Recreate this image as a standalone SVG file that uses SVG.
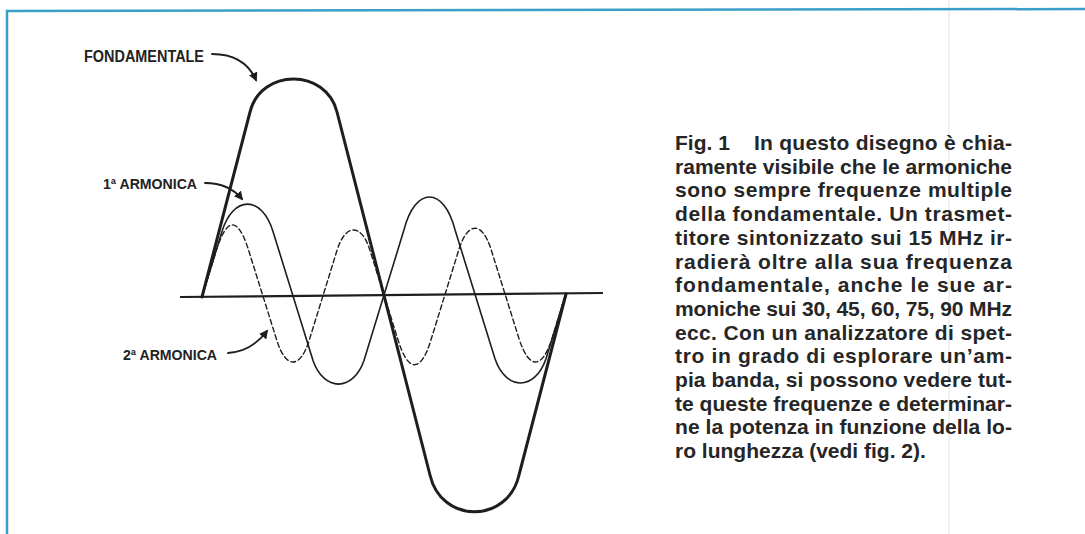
<svg xmlns="http://www.w3.org/2000/svg" width="1085" height="534" viewBox="0 0 1085 534">
<style>
.lbl{font-family:"Liberation Sans",Arial,sans-serif;font-weight:bold;fill:#222;}
.cap{font-family:"Liberation Sans",Arial,sans-serif;font-weight:bold;font-size:21px;fill:#262626;}
.wave{fill:none;stroke:#1e1e1e;stroke-linejoin:round;stroke-linecap:round;}
.conn{fill:none;stroke:#1e1e1e;stroke-width:1.8;stroke-linecap:round;}
</style>
<defs>
<marker id="ah" viewBox="0 0 10 10" refX="8" refY="5" markerWidth="9" markerHeight="9" markerUnits="userSpaceOnUse" orient="auto">
<path d="M0,0 L10,5 L0,10 Z" fill="#1e1e1e"/>
</marker>
</defs>
<rect width="1085" height="534" fill="#ffffff"/>
<g id="frame">
<line x1="949" y1="0" x2="949" y2="534" stroke="#e4e4e4" stroke-width="1"/>
<path d="M7,534 L7,11 L1085,9" fill="none" stroke="#3a9ec8" stroke-width="2.5"/>
</g>
<g id="axis">
<line x1="180" y1="297" x2="603" y2="293" stroke="#1e1e1e" stroke-width="2.2"/>
</g>
<g id="fundamental">
<path class="wave" stroke-width="3" d="M202,297 L250,112 C261,68 326,68 337,112 L430,475 C441,524 508,524 519,475 L566,294"/>
</g>
<g id="harmonic1">
<path class="wave" stroke-width="1.6" d="M202,296.8 L222,231.5 C233,195 262,195 273,231.5 L293,295.9 L313,360.5 C324,392 353,392 364,360.5 L384,295.1 L404,229.8 C415,186 444,186 455,229.8 L475,294.2 L495,358.8 C506,391 535,391 546,358.8 L566,293.3"/>
</g>
<g id="harmonic2">
<path class="wave" stroke-width="1.4" stroke-dasharray="5 3" d="M202,296.8 L216,251.5 C227,216 238,216 249,251.5 L263,296.2 L277,341 C286,369 300,369 309,341 L323,295.6 L337,250.4 C345.5,223.2 361.5,223.2 370,250.4 L384,295.1 L398,339.8 C408,373 421,373 431,339.8 L445,294.5 L459,249.2 C468,221.2 482,221.2 491,249.2 L505,293.9 L519,338.6 C529,369.8 542,369.8 552,338.6 L566,293.3"/>
</g>
<g id="label-fondamentale">
<text class="lbl" x="84" y="62" font-size="16" textLength="120" lengthAdjust="spacingAndGlyphs">FONDAMENTALE</text>
</g>
<g id="label-armonica1">
<text class="lbl" x="103" y="189" font-size="15" textLength="94" lengthAdjust="spacingAndGlyphs">1ª ARMONICA</text>
</g>
<g id="label-armonica2">
<text class="lbl" x="123" y="360" font-size="15" textLength="94" lengthAdjust="spacingAndGlyphs">2ª ARMONICA</text>
</g>
<g id="connectors">
<path class="conn" marker-end="url(#ah)" d="M212,54 C232,54 248,62 256,80"/>
<path class="conn" marker-end="url(#ah)" d="M205,183 C222,183 233,188 242,199"/>
<path class="conn" marker-end="url(#ah)" d="M228,353 C245,352 258,343 267,331"/>
</g>
<g id="caption">
<text class="cap" x="675" y="150">Fig. 1</text>
<text class="cap" x="754" y="150" textLength="258" lengthAdjust="spacing">In questo disegno è chia-</text>
<text class="cap" x="675" y="173.7" textLength="337" lengthAdjust="spacing">ramente visibile che le armoniche</text>
<text class="cap" x="675" y="197.4" textLength="337" lengthAdjust="spacing">sono sempre frequenze multiple</text>
<text class="cap" x="675" y="221.1" textLength="337" lengthAdjust="spacing">della fondamentale. Un trasmet-</text>
<text class="cap" x="675" y="244.8" textLength="337" lengthAdjust="spacing">titore sintonizzato sui 15 MHz ir-</text>
<text class="cap" x="675" y="268.5" textLength="337" lengthAdjust="spacing">radierà oltre alla sua frequenza</text>
<text class="cap" x="675" y="292.2" textLength="337" lengthAdjust="spacing">fondamentale, anche le sue ar-</text>
<text class="cap" x="675" y="315.9" textLength="337" lengthAdjust="spacing">moniche sui 30, 45, 60, 75, 90 MHz</text>
<text class="cap" x="675" y="339.6" textLength="337" lengthAdjust="spacing">ecc. Con un analizzatore di spet-</text>
<text class="cap" x="675" y="363.3" textLength="337" lengthAdjust="spacing">tro in grado di esplorare un’am-</text>
<text class="cap" x="675" y="387" textLength="337" lengthAdjust="spacing">pia banda, si possono vedere tut-</text>
<text class="cap" x="675" y="410.7" textLength="337" lengthAdjust="spacing">te queste frequenze e determinar-</text>
<text class="cap" x="675" y="434.4" textLength="337" lengthAdjust="spacing">ne la potenza in funzione della lo-</text>
<text class="cap" x="675" y="458">ro lunghezza (vedi fig. 2).</text>
</g>
</svg>
